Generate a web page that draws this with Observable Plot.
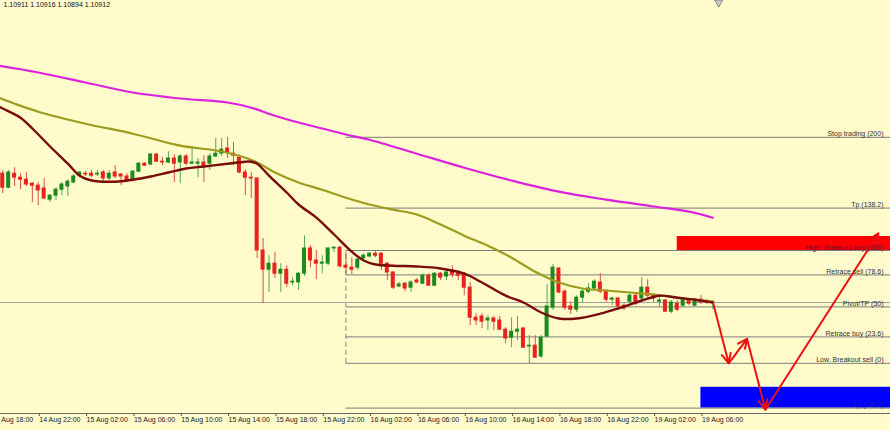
<!DOCTYPE html>
<html><head><meta charset="utf-8">
<script src="https://cdn.jsdelivr.net/npm/d3@7"></script>
<script src="https://cdn.jsdelivr.net/npm/@observablehq/plot@0.6"></script>
<style>html,body{margin:0;padding:0;background:#FFFBCB;overflow:hidden}</style>
</head><body><div id="chart"></div>
<script>
// ---- Data ----
const ohlcText = "1.10911 1.10916 1.10894 1.10912";
const tickBars = [0,8,16,24,32,40,48,56,64,72,80,88,96,104,112,120];
const tickLabels = ["14 Aug 18:00","14 Aug 22:00","15 Aug 02:00","15 Aug 06:00","15 Aug 10:00","15 Aug 14:00","15 Aug 18:00","15 Aug 22:00","16 Aug 02:00","16 Aug 06:00","16 Aug 10:00","16 Aug 14:00","16 Aug 18:00","16 Aug 22:00","19 Aug 02:00","19 Aug 06:00"];

const barIndex = d3.range(2, 123);
const open = [
1.11234,1.11199,1.11234,1.11224,1.11219,1.11209,1.11204,1.11197,1.11169,1.11179,
1.11194,1.11202,1.11212,1.11229,1.11234,1.11234,1.11232,1.11237,1.11222,1.11237,
1.11232,1.11227,1.11219,1.11239,1.11259,1.11257,1.11282,1.11264,1.11262,1.11272,
1.11262,1.11277,1.11259,1.11259,1.11262,1.11259,1.11277,1.11284,1.11297,1.11284,
1.11274,1.11237,1.11224,1.11222,1.11042,1.10994,1.11009,1.10984,1.10994,1.10962,
1.10962,1.10984,1.11047,1.11017,1.11009,1.11009,1.11047,1.11049,1.11004,1.10999,
1.10999,1.11022,1.11027,1.11034,1.11034,1.11009,1.10987,1.10952,1.10959,1.10949,
1.10967,1.10959,1.10979,1.10954,1.10984,1.10977,1.10992,1.10984,1.10984,1.10949,
1.10874,1.10877,1.10867,1.10872,1.10867,1.10844,1.10824,1.10839,1.10847,1.10802,
1.10804,1.10777,1.10827,1.10899,1.10997,1.10939,1.10902,1.10894,1.10924,1.10939,
1.10947,1.10962,1.10939,1.10919,1.10922,1.10904,1.10914,1.10929,1.10922,1.10949,
1.10929,1.10914,1.10917,1.10889,1.10909,1.10904,1.10917,1.10904,1.10919,1.10914,
1.10911];
const high = [
1.11242,1.11242,1.11249,1.11234,1.11237,1.11212,1.11212,1.11222,1.11182,1.11199,
1.11212,1.11219,1.11232,1.11239,1.11239,1.11242,1.11242,1.11242,1.11242,1.11254,
1.11234,1.11234,1.11242,1.11262,1.11262,1.11284,1.11284,1.11274,1.11289,1.11282,
1.11282,1.11282,1.11297,1.11272,1.11279,1.11284,1.11322,1.11322,1.11324,1.11312,
1.11279,1.11244,1.11237,1.11224,1.11072,1.11029,1.11037,1.11009,1.11004,1.10974,
1.10987,1.11079,1.11054,1.11042,1.11029,1.11049,1.11052,1.11052,1.11037,1.11024,
1.11024,1.11034,1.11037,1.11039,1.11037,1.11012,1.10989,1.10962,1.10962,1.10967,
1.10972,1.10984,1.10984,1.10987,1.10987,1.10992,1.11004,1.10992,1.10987,1.10962,
1.10884,1.10884,1.10879,1.10877,1.10877,1.10849,1.10874,1.10877,1.10849,1.10829,
1.10829,1.10829,1.10957,1.11007,1.10999,1.10944,1.10914,1.10929,1.10947,1.10959,
1.10969,1.10984,1.10944,1.10924,1.10924,1.10909,1.10934,1.10934,1.10974,1.10969,
1.10934,1.10924,1.10919,1.10917,1.10917,1.10924,1.10922,1.10922,1.10929,1.10919,
1.10916];
const low = [
1.11184,1.11197,1.11202,1.11194,1.11202,1.11162,1.11154,1.11169,1.11162,1.11167,
1.11179,1.11177,1.11209,1.11224,1.11227,1.11224,1.11227,1.11209,1.11217,1.11222,
1.11204,1.11212,1.11214,1.11237,1.11252,1.11254,1.11262,1.11254,1.11259,1.11212,
1.11209,1.11254,1.11257,1.11224,1.11212,1.11242,1.11274,1.11277,1.11272,1.11254,
1.11234,1.11179,1.11172,1.11022,1.10909,1.10937,1.10972,1.10937,1.10949,1.10954,
1.10942,1.10977,1.10999,1.10969,1.10984,1.11004,1.11037,1.10999,1.10982,1.10982,
1.10992,1.11019,1.11024,1.11024,1.10992,1.10967,1.10944,1.10949,1.10939,1.10937,
1.10959,1.10957,1.10952,1.10952,1.10967,1.10967,1.10974,1.10967,1.10929,1.10854,
1.10854,1.10847,1.10842,1.10842,1.10842,1.10809,1.10799,1.10817,1.10797,1.10759,
1.10772,1.10772,1.10824,1.10892,1.10934,1.10892,1.10882,1.10887,1.10912,1.10934,
1.10942,1.10934,1.10912,1.10904,1.10899,1.10892,1.10909,1.10904,1.10917,1.10924,
1.10912,1.10899,1.10887,1.10884,1.10889,1.10899,1.10904,1.10902,1.10907,1.10907,
1.10894];
const close = [
1.11199,1.11237,1.11224,1.11219,1.11207,1.11204,1.11192,1.11172,1.11179,1.11194,
1.11207,1.11214,1.11227,1.11237,1.11232,1.11229,1.11234,1.11222,1.11234,1.11227,
1.11227,1.11217,1.11239,1.11259,1.11254,1.11282,1.11264,1.11262,1.11272,1.11259,
1.11277,1.11259,1.11262,1.11262,1.11254,1.11277,1.11284,1.11294,1.11287,1.11279,
1.11237,1.11224,1.11222,1.11042,1.10994,1.11009,1.10984,1.10994,1.10959,1.10964,
1.10984,1.11047,1.11017,1.11009,1.11012,1.11047,1.11049,1.11002,1.10999,1.10994,
1.11019,1.11029,1.11034,1.11029,1.11009,1.10987,1.10949,1.10957,1.10947,1.10962,
1.10962,1.10979,1.10954,1.10984,1.10974,1.10987,1.10982,1.10979,1.10949,1.10874,
1.10867,1.10864,1.10872,1.10864,1.10844,1.10822,1.10839,1.10844,1.10799,1.10804,
1.10774,1.10824,1.10902,1.10999,1.10937,1.10899,1.10894,1.10924,1.10939,1.10947,
1.10964,1.10939,1.10919,1.10922,1.10902,1.10897,1.10929,1.10909,1.10949,1.10929,
1.10922,1.10917,1.10889,1.10912,1.10894,1.10919,1.10909,1.10919,1.10912,1.10912,
1.10912];

// Moving averages (bar index, price)
const maSlowBars = [0,8,16,24,32,40,44,48,52,56,60,64,72,80,88,96,104,112,118,122];
const maSlow = [1.11507,1.11487,1.11462,1.11437,1.11422,1.11412,1.11399,1.11379,1.11362,1.11347,1.11332,1.11319,1.11284,1.11249,1.11217,1.11189,1.11169,1.11152,1.11139,1.11124];
const maMidBars = [0,4,8,16,24,32,38,42,45,48,52,56,60,64,68,72,76,80,84,88,92,96,100,104,108,112,116,122];
const maMid = [1.11432,1.11409,1.11389,1.11359,1.11334,1.11304,1.11292,1.11279,1.11262,1.11237,1.11212,1.11194,1.11174,1.11157,1.11144,1.11132,1.11107,1.11079,1.11054,1.11024,1.10989,1.10962,1.10947,1.10942,1.10937,1.10932,1.10924,1.10914];
const maFastBars = [0,2,5,7,10,13,15,17,21,24,27,30,33,36,40,43,44,45,47,50,52,55,58,61,63,65,68,72,76,80,83,87,90,93,96,99,103,106,110,113,116,119,122];
const maFast = [1.11412,1.11397,1.11374,1.11347,1.11302,1.11259,1.11229,1.11217,1.11214,1.11219,1.11227,1.11237,1.11247,1.11252,1.11259,1.11264,1.11264,1.11259,1.11229,1.11187,1.11157,1.11124,1.11082,1.11039,1.11017,1.11007,1.11004,1.11002,1.10997,1.10984,1.10962,1.10929,1.10912,1.10887,1.10872,1.10872,1.10884,1.10897,1.10917,1.10929,1.10924,1.10919,1.10912];

// Fibonacci levels
const fibNames = ["Stop trading (200)","Tp (138.2)","High. Breakout buy (100)","Retrace sell (78.6)","Pivot/TP (50)","Retrace buy (23.6)","Low. Breakout sell (0)","Tp (-38.2)"];
const fibPrices = [1.11325,1.11148,1.11042,1.10981,1.10901,1.10826,1.10760,1.10648];
const fibTextColors = ["#333","#333","#5c1238","#333","#333","#333","#333","#1c1cae"];
const fibStartBar = 60;
const bidPrice = 1.10912;

// Zones
const zoneStartBars = [116, 120];
const zoneLow = [1.11042, 1.10648];
const zoneHigh = [1.11077, 1.10700];
const zoneColors = ["#ff0000", "#0000ff"];

// Forecast zigzag
const zigBars = [122.07, 124.7, 127.8, 130.9, 150.0];
const zigPrices = [1.10910, 1.10760, 1.10821, 1.10644, 1.11085];

const shiftMarkerBar = 123;

// ---- Build ----
const bars = barIndex.map((b, k) => ({b, o: open[k], h: high[k], l: low[k], c: close[k]}));
const isUp = d => d.c >= d.o;
const fibs = fibNames.map((n, k) => ({name: n, price: fibPrices[k], color: fibTextColors[k]}));
const zones = zoneStartBars.map((s, k) => ({from: s, to: 160, lo: zoneLow[k], hi: zoneHigh[k], color: zoneColors[k]}));
const zigSegs = d3.pairs(zigBars.map((b, k) => ({b, p: zigPrices[k]})));
const mkLine = (bs, vs) => bs.map((b, k) => ({b, p: vs[k]}));

const chart = Plot.plot({
  width: 890, height: 430,
  marginTop: 0, marginBottom: 17, marginLeft: 0, marginRight: 0,
  style: {background: "#FFFBCB", fontFamily: "'Liberation Sans', Arial, sans-serif", fontSize: "7px", color: "#1a1a1a"},
  x: {domain: [1.62, 152.04], axis: null},
  y: {domain: [1.106345, 1.11667], axis: null},
  color: {type: "identity"},
  marks: [
    Plot.rect(zones, {x1: "from", x2: "to", y1: "lo", y2: "hi", fill: "color", clip: true}),
    Plot.ruleY(fibs, {y: "price", x1: fibStartBar, x2: 160, stroke: "#7c7c7c", strokeWidth: 1, clip: true}),
    Plot.ruleX([fibStartBar], {x: d => d, y1: fibPrices[6], y2: fibPrices[2], stroke: "#8a8a8a", strokeDasharray: "5,3"}),
    Plot.ruleY([bidPrice], {stroke: "#a3a3a3", strokeWidth: 1}),
    Plot.ruleX(bars, {x: "b", y1: "l", y2: "h", stroke: d => isUp(d) ? "#56a656" : "#d65050", strokeWidth: 1}),
    Plot.rect(bars, {x1: d => d.b - 0.34, x2: d => d.b + 0.34, y1: "o", y2: "c", fill: d => isUp(d) ? "#1c8a1c" : "#e8221c", insetTop: -0.5, insetBottom: -0.5}),
    Plot.line(mkLine(maSlowBars, maSlow), {x: "b", y: "p", stroke: "#dd22dd", strokeWidth: 2.2, curve: "catmull-rom", clip: true}),
    Plot.line(mkLine(maMidBars, maMid), {x: "b", y: "p", stroke: "#9c9c1e", strokeWidth: 2.2, curve: "catmull-rom", clip: true}),
    Plot.line(mkLine(maFastBars, maFast), {x: "b", y: "p", stroke: "#7a0c0c", strokeWidth: 2.4, curve: "catmull-rom", clip: true}),
    Plot.arrow(zigSegs, {x1: d => d[0].b, y1: d => d[0].p, x2: d => d[1].b, y2: d => d[1].p, stroke: "#ec1010", strokeWidth: 2, headLength: 8, headAngle: 50}),
    Plot.text(fibs, {y: "price", text: "name", frameAnchor: "right", textAnchor: "end", lineAnchor: "bottom", dx: -7, dy: -1, fill: "color", fontSize: 7}),
    Plot.text([ohlcText], {frameAnchor: "top-left", dx: 3, dy: 2, lineAnchor: "top", fill: "#111", fontSize: 7}),
    Plot.dot([shiftMarkerBar], {x: d => d, frameAnchor: "top", symbol: "triangle", rotate: 180, r: 3, dy: 2, fill: "#c8c8c8", stroke: "#777", strokeWidth: 0.8}),
    Plot.frame({anchor: "bottom", stroke: "#6a6a6a"}),
    Plot.axisX({ticks: tickBars, tickFormat: d => tickLabels[tickBars.indexOf(d)], textAnchor: "start", dx: 1, tickSize: 3, tickPadding: 1, fill: "#222", stroke: "#555", fontSize: 7})
  ]
});
document.getElementById("chart").appendChild(chart);
</script>
</body></html>
